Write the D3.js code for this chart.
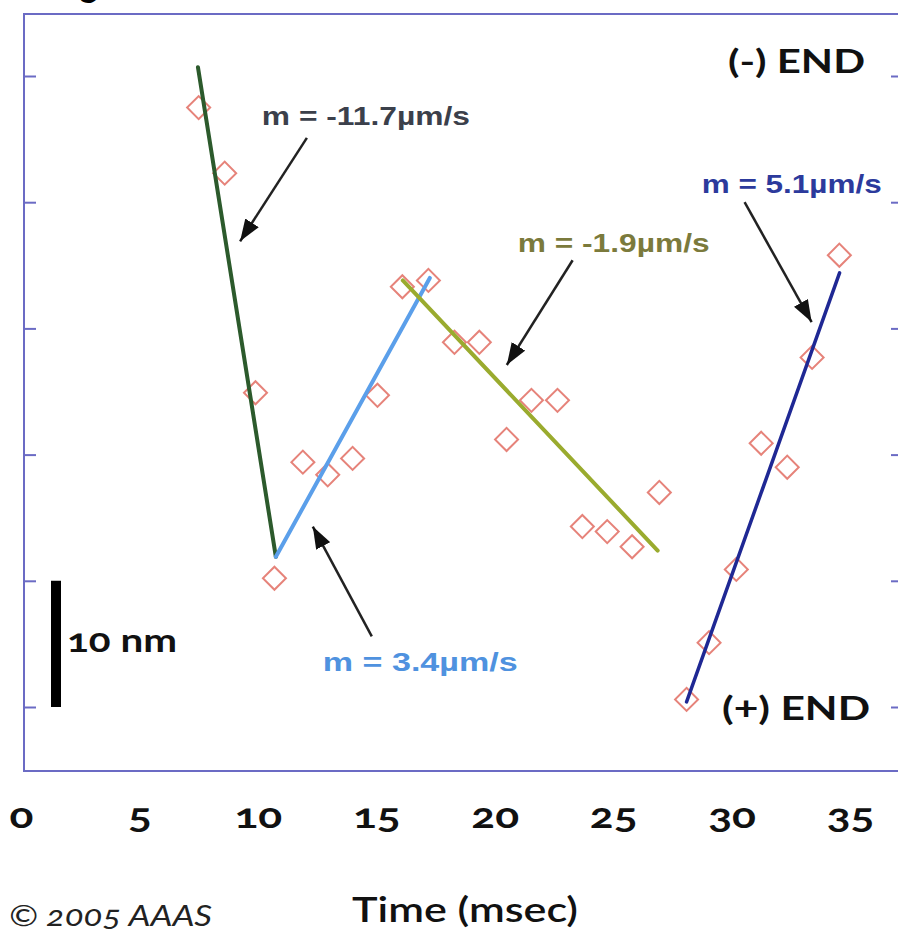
<!DOCTYPE html>
<html>
<head>
<meta charset="utf-8">
<script src="https://cdn.jsdelivr.net/npm/d3@7"></script>
<style>
  body { margin: 0; background: #fff; }
  svg { display: block; }
</style>
</head>
<body>
<div class="plot"></div>
<script>
// time (msec) and tip position (nm) of each measured point
const times = [7.5, 8.6, 9.9, 10.7, 11.9, 12.95, 14.0, 15.05, 16.1, 17.2, 18.3, 19.35, 20.5,
               21.55, 22.65, 23.7, 24.75, 25.8, 26.95, 28.1, 29.05, 30.2, 31.25, 32.35, 33.4, 34.55];
const positions = [47.5, 42.3, 24.9, 10.2, 19.4, 18.4, 19.7, 24.7, 33.3, 33.8, 28.9, 28.9, 21.2,
                   24.3, 24.3, 14.3, 13.9, 12.7, 17.0, 0.6, 5.1, 10.9, 20.9, 19.0, 27.7, 35.8];

// fitted segments
const slopes = ["-11.7", "3.4", "-1.9", "5.1"];
const fitStart = [[7.47, 50.7], [10.76, 11.9], [16.12, 33.8], [28.1, 0.4]];
const fitEnd = [[10.76, 11.9], [17.26, 34.0], [26.88, 12.4], [34.56, 34.4]];
const fitColors = ["#2c5a2c", "#5b9fea", "#9aab2e", "#1f2894"];
const labelColors = ["#3b404b", "#4f92df", "#7b7a3c", "#2c3a9c"];

// where the slope labels sit and where their arrows point (data units)
const labelAt = [[10.17, 46.1], [12.74, 2.85], [20.97, 36.05], [28.74, 40.75]];
const labelWidth = [208, 195, 192, 180];
const arrowFrom = [[12.07, 45.1], [14.81, 5.6], [23.29, 35.4], [30.55, 40.0]];
const arrowTo = [[9.25, 36.9], [12.32, 14.3], [20.51, 27.1], [33.38, 30.5]];

const xTicks = [0, 5, 10, 15, 20, 25, 30, 35];
const yTicks = [0, 10, 20, 30, 40, 50];

const w = 898;
const h = 938;
const frame = {left: 24, top: 14, right: 905, bottom: 771};
const frameColor = "#6b6bc4";

const x = d3.scaleLinear().domain([0, 35]).range([21, 850]);
const y = d3.scaleLinear().domain([0, 50]).range([707, 76]);

const svg = d3.select(".plot")
    .append("svg")
    .attr("width", w)
    .attr("height", h);

svg.append("defs").append("marker")
    .attr("id", "head")
    .attr("markerUnits", "userSpaceOnUse")
    .attr("viewBox", "0 0 22 16")
    .attr("refX", 22)
    .attr("refY", 8)
    .attr("markerWidth", 22)
    .attr("markerHeight", 16)
    .attr("orient", "auto")
    .append("path")
    .attr("d", "M0,0 L22,8 L0,16 Z")
    .attr("fill", "#111");

// cropped figure title at the very top
svg.append("text")
    .attr("x", 52)
    .attr("y", -3)
    .attr("font-family", "Lato")
    .attr("font-weight", "bold")
    .attr("font-size", 34)
    .text("Fig");

// frame
svg.append("rect")
    .attr("x", frame.left)
    .attr("y", frame.top)
    .attr("width", frame.right - frame.left)
    .attr("height", frame.bottom - frame.top)
    .attr("fill", "none")
    .attr("stroke", frameColor)
    .attr("stroke-width", 2);

// inward ticks on both sides, no labels
const leftAxis = svg.append("g")
    .attr("transform", `translate(${frame.left},0)`)
    .call(d3.axisLeft(y).tickValues(yTicks).tickSize(-12).tickFormat(""));
const rightAxis = svg.append("g")
    .attr("transform", `translate(${frame.right},0)`)
    .call(d3.axisRight(y).tickValues(yTicks).tickSize(-14).tickFormat(""));
[leftAxis, rightAxis].forEach(a => {
    a.select(".domain").remove();
    a.selectAll("line").attr("stroke", frameColor).attr("stroke-width", 2);
});

// time axis labels
const xAxis = svg.append("g")
    .attr("transform", `translate(0,${frame.bottom})`)
    .call(d3.axisBottom(x).tickValues(xTicks).tickSize(0));
xAxis.select(".domain").remove();
xAxis.selectAll("text")
    .attr("y", 57)
    .attr("dy", 0)
    .attr("fill", "#111")
    .attr("font-family", "Lato")
    .attr("font-weight", "bold")
    .attr("font-size", 34)
    .style("font-variant-numeric", "oldstyle-nums")
    .attr("transform", "scale(1.3,1)");

// data points
svg.selectAll("path.pt")
    .data(times)
    .enter()
    .append("path")
    .attr("class", "pt")
    .attr("d", d3.symbol(d3.symbolSquare, 265))
    .attr("transform", (d, i) => `translate(${x(d)},${y(positions[i])}) rotate(45)`)
    .attr("fill", "none")
    .attr("stroke", "#e6837a")
    .attr("stroke-width", 2);

// fitted lines
svg.selectAll("line.fit")
    .data(slopes)
    .enter()
    .append("line")
    .attr("class", "fit")
    .attr("x1", (d, i) => x(fitStart[i][0]))
    .attr("y1", (d, i) => y(fitStart[i][1]))
    .attr("x2", (d, i) => x(fitEnd[i][0]))
    .attr("y2", (d, i) => y(fitEnd[i][1]))
    .attr("stroke", (d, i) => fitColors[i])
    .attr("stroke-width", (d, i) => i == 3 ? 3.5 : 4)
    .attr("stroke-linecap", "round");

// arrows
svg.selectAll("line.arrow")
    .data(slopes)
    .enter()
    .append("line")
    .attr("class", "arrow")
    .attr("x1", (d, i) => x(arrowFrom[i][0]))
    .attr("y1", (d, i) => y(arrowFrom[i][1]))
    .attr("x2", (d, i) => x(arrowTo[i][0]))
    .attr("y2", (d, i) => y(arrowTo[i][1]))
    .attr("stroke", "#222")
    .attr("stroke-width", 2.5)
    .attr("marker-end", "url(#head)");

// slope labels
svg.selectAll("text.slope")
    .data(slopes)
    .enter()
    .append("text")
    .attr("class", "slope")
    .attr("x", (d, i) => x(labelAt[i][0]))
    .attr("y", (d, i) => y(labelAt[i][1]))
    .attr("font-family", "Liberation Sans")
    .attr("font-weight", "bold")
    .attr("font-size", 25)
    .attr("fill", (d, i) => labelColors[i])
    .attr("textLength", (d, i) => labelWidth[i])
    .attr("lengthAdjust", "spacingAndGlyphs")
    .text(d => "m = " + d + "\u00b5m/s");

// end markers and scale bar
const bold = (sel) => sel.attr("font-family", "Lato").attr("font-weight", "bold").attr("fill", "#111");

svg.append("text").call(bold)
    .attr("x", 728).attr("y", 73)
    .attr("font-size", 32)
    .attr("textLength", 137).attr("lengthAdjust", "spacingAndGlyphs")
    .text("(-) END");

svg.append("text").call(bold)
    .attr("x", 722).attr("y", 720)
    .attr("font-size", 32)
    .attr("textLength", 148).attr("lengthAdjust", "spacingAndGlyphs")
    .text("(+) END");

svg.append("line")
    .attr("x1", 56).attr("x2", 56)
    .attr("y1", y(10)).attr("y2", y(0))
    .attr("stroke", "#000")
    .attr("stroke-width", 10);

svg.append("text").call(bold)
    .attr("x", 67).attr("y", 652)
    .attr("font-size", 32)
    .style("font-variant-numeric", "oldstyle-nums")
    .attr("textLength", 110).attr("lengthAdjust", "spacingAndGlyphs")
    .text("10 nm");

// axis title and credit
svg.append("text").call(bold)
    .attr("x", 352).attr("y", 922)
    .attr("font-size", 34)
    .attr("font-weight", 600)
    .attr("textLength", 226).attr("lengthAdjust", "spacingAndGlyphs")
    .text("Time (msec)");

svg.append("text")
    .attr("x", 9).attr("y", 926)
    .attr("font-family", "Lato")
    .attr("font-style", "italic")
    .attr("font-size", 28)
    .attr("fill", "#222")
    .style("font-variant-numeric", "oldstyle-nums")
    .attr("textLength", 203).attr("lengthAdjust", "spacingAndGlyphs")
    .text("\u00a9 2005 AAAS");
</script>
</body>
</html>
